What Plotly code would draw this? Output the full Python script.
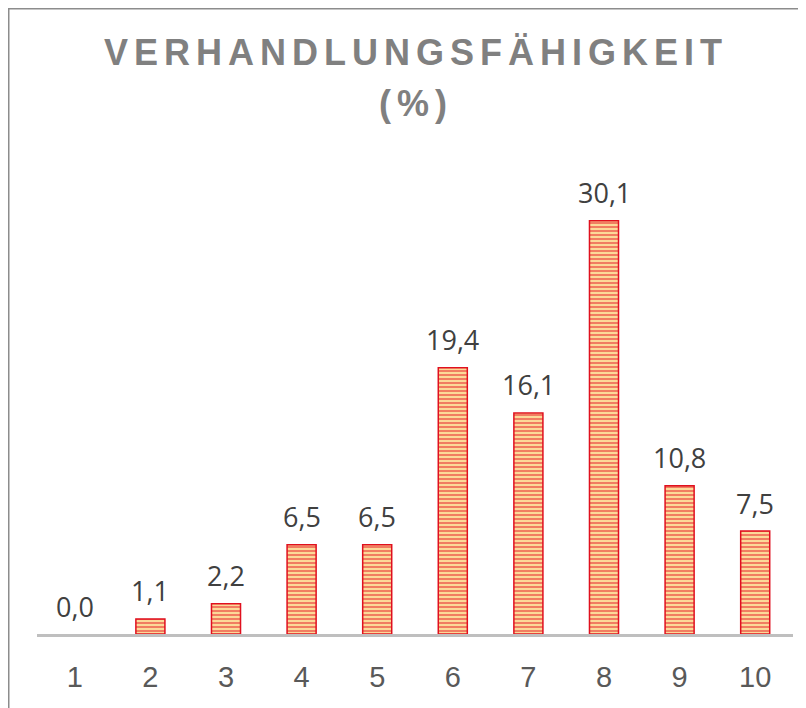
import plotly.graph_objects as go

categories = ["1", "2", "3", "4", "5", "6", "7", "8", "9", "10"]
values = [0.0, 1.1, 2.2, 6.5, 6.5, 19.4, 16.1, 30.1, 10.8, 7.5]
title_text = "VERHANDLUNGSFÄHIGKEIT"
title_sub = "(%)"

# page has an 8px body margin: figure drawn at (8, 8) in the 806x708 window
W, H = 798, 700
ML, MR, MT, MB = 29, 13, 173, 74
YMAX = 33.0
PW = W - ML - MR
PH = H - MT - MB


def spaced(s, sep="\u2006"):
    return sep.join(list(s))


def px_to_paper_x(px):
    return (px - ML) / PW


def px_to_paper_y(py):
    return (H - MB - py) / PH


fig = go.Figure(
    go.Bar(
        x=categories,
        y=values,
        width=0.384,
        marker=dict(
            color="#fcd998",
            line=dict(color="#e0101e", width=[0 if v == 0 else 1.5 for v in values]),
            pattern=dict(shape="-", fgcolor="#e6222a", bgcolor="#fcd998", size=4, solidity=0.5),
        ),
        hoverinfo="x+y",
    )
)

label_font = dict(family="Open Sans, Liberation Sans, sans-serif", size=27, color="#404040")
annotations = []
for i, v in enumerate(values):
    annotations.append(
        dict(
            x=i,
            y=v,
            xref="x",
            yref="y",
            text=f"{v:.1f}".replace(".", ","),
            showarrow=False,
            yanchor="middle",
            xanchor="center",
            yshift=28,
            font=label_font,
        )
    )

title_font = dict(family="Liberation Sans, Arial, sans-serif", size=36, color="#808080")
annotations.append(
    dict(
        x=px_to_paper_x(404.5),
        y=px_to_paper_y(44),
        xref="paper",
        yref="paper",
        text="<b>" + spaced(title_text) + "</b>",
        showarrow=False,
        xanchor="center",
        yanchor="middle",
        font=title_font,
    )
)
annotations.append(
    dict(
        x=px_to_paper_x(404.5),
        y=px_to_paper_y(95),
        xref="paper",
        yref="paper",
        text="<b>" + spaced(title_sub) + "</b>",
        showarrow=False,
        xanchor="center",
        yanchor="middle",
        font=title_font,
    )
)

fig.update_layout(
    width=W,
    height=H,
    separators=",.",
    paper_bgcolor="white",
    plot_bgcolor="white",
    margin=dict(l=ML, r=MR, t=MT, b=MB, autoexpand=False),
    showlegend=False,
    annotations=annotations,
    xaxis=dict(
        type="category",
        range=[-0.5, len(categories) - 0.5],
        showline=True,
        linecolor="#bfbfbf",
        linewidth=3,
        showgrid=False,
        ticks="outside",
        ticklen=15,
        tickcolor="rgba(0,0,0,0)",
        tickfont=dict(family="Liberation Sans, Arial, sans-serif", size=29, color="#595959"),
        automargin=False,
        fixedrange=True,
    ),
    yaxis=dict(
        range=[0, YMAX],
        visible=False,
        showgrid=False,
        zeroline=False,
        automargin=False,
        fixedrange=True,
    ),
    shapes=[
        dict(
            type="rect",
            xref="paper",
            yref="paper",
            x0=px_to_paper_x(0.75),
            x1=px_to_paper_x(830),
            y0=px_to_paper_y(730),
            y1=px_to_paper_y(0.75),
            line=dict(color="#8c8c8c", width=1.5),
            fillcolor="rgba(0,0,0,0)",
            layer="below",
        )
    ],
)

fig.write_html("out.html")
